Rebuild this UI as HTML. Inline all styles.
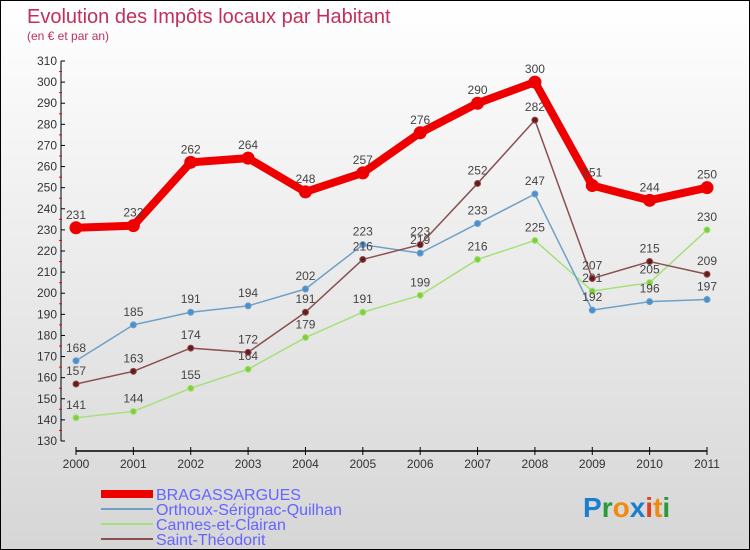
<!DOCTYPE html>
<html><head><meta charset="utf-8"><style>
body{margin:0}
#c{width:748px;height:548px;border:1px solid #000;background:linear-gradient(#ffffff,#d6d6d6);position:relative;font-family:"Liberation Sans",sans-serif;overflow:hidden}
</style></head><body>
<div id="c">
<svg id="s" width="748" height="548" xmlns="http://www.w3.org/2000/svg">
<text x="26" y="22" font-size="20" fill="#c0305a">Evolution des Impôts locaux par Habitant</text>
<text x="26" y="39" font-size="12" fill="#c0305a">(en € et par an)</text>
<g id="axes"></g><g id="series"></g>
<g>
<rect x="100" y="489" width="52" height="8" fill="#ee0000"/>
<text x="155" y="499" font-size="16" fill="#6464ff">BRAGASSARGUES</text>
<rect x="100" y="507" width="52" height="2" fill="#6fa0c8"/>
<text x="155" y="514" font-size="16" fill="#6464ff">Orthoux-Sérignac-Quilhan</text>
<rect x="100" y="522" width="52" height="2" fill="#a6e07a"/>
<text x="155" y="529" font-size="16" fill="#6464ff">Cannes-et-Clairan</text>
<rect x="100" y="537" width="52" height="2" fill="#8a5050"/>
<text x="155" y="544" font-size="16" fill="#6464ff">Saint-Théodorit</text>
</g>
<text x="582" y="516" font-size="28" font-weight="bold"><tspan fill="#1a7fd0">P</tspan><tspan fill="#2a9a3a">r</tspan><tspan fill="#f08a10">o</tspan><tspan fill="#1a7fd0">x</tspan><tspan fill="#e04020">i</tspan><tspan fill="#f08a10">t</tspan><tspan fill="#2a9a3a">i</tspan></text>
</svg>
</div>
<script>
const years=[2000,2001,2002,2003,2004,2005,2006,2007,2008,2009,2010,2011];
const bragassargues=[231,232,262,264,248,257,276,290,300,251,244,250];
const orthoux=[168,185,191,194,202,223,219,233,247,192,196,197];
const cannes=[141,144,155,164,179,191,199,216,225,201,205,230];
const saintTheodorit=[157,163,174,172,191,216,223,252,282,207,215,209];
const yTicks=[130,140,150,160,170,180,190,200,210,220,230,240,250,260,270,280,290,300,310];
const NS="http://www.w3.org/2000/svg";
const X=i=>75+i*(706-75)/(years.length-1);
const Y=v=>440-(v-130)*(380/180);
function mk(t,a,p){const e=document.createElementNS(NS,t);for(const k in a)e.setAttribute(k,a[k]);p.appendChild(e);return e;}
const ax=document.getElementById('axes');
const yl=mk('line',{x1:60,y1:Y(310),x2:60,y2:Y(130),stroke:'#000'},ax);


yTicks.forEach(v=>{
 mk('line',{x1:60,y1:Y(v),x2:64,y2:Y(v),stroke:'#000'},ax);
 if(v<310) mk('line',{x1:58,y1:Y(v+5),x2:61,y2:Y(v+5),stroke:'#e00'},ax);
 const t=mk('text',{x:56,y:Y(v)+4,'font-size':12,fill:'#333','text-anchor':'end'},ax);t.textContent=v;
 
 
});
const xl=mk('line',{x1:X(0),y1:450,x2:X(11),y2:450,stroke:'#000','stroke-width':1.5},ax);


years.forEach((y,i)=>{
 mk('line',{x1:X(i),y1:446,x2:X(i),y2:454,stroke:'#000'},ax);
 const t=mk('text',{x:X(i),y:467,'font-size':12,fill:'#333','text-anchor':'middle'},ax);t.textContent=y;
 
 
});
const sg=document.getElementById('series');
function series(vals,col,dot,w,r,name){
 const g=mk('g',{},sg);
 
 
 mk('polyline',{points:vals.map((v,i)=>X(i)+','+Y(v)).join(' '),fill:'none',stroke:col,'stroke-width':w,'stroke-linejoin':'round'},g);
 vals.forEach((v,i)=>{
  const c=mk('circle',{cx:X(i),cy:Y(v),r:r,fill:dot,stroke:col,'stroke-width':1},g);
  
  
  const t=mk('text',{x:X(i),y:Y(v)-9,'font-size':12,fill:'#444','text-anchor':'middle'},g);t.textContent=v;
  
  
 });
}
series(cannes,'#a6e07a','#7ed03a',1.5,3,'cannes');
series(orthoux,'#6fa0c8','#4a90d0',1.5,3,'orthoux');
series(saintTheodorit,'#8a5050','#6a1a1a',1.5,3,'saint-theodorit');
series(bragassargues,'#ee0000','#ee0000',8,6,'bragassargues');
</script>
</body></html>
